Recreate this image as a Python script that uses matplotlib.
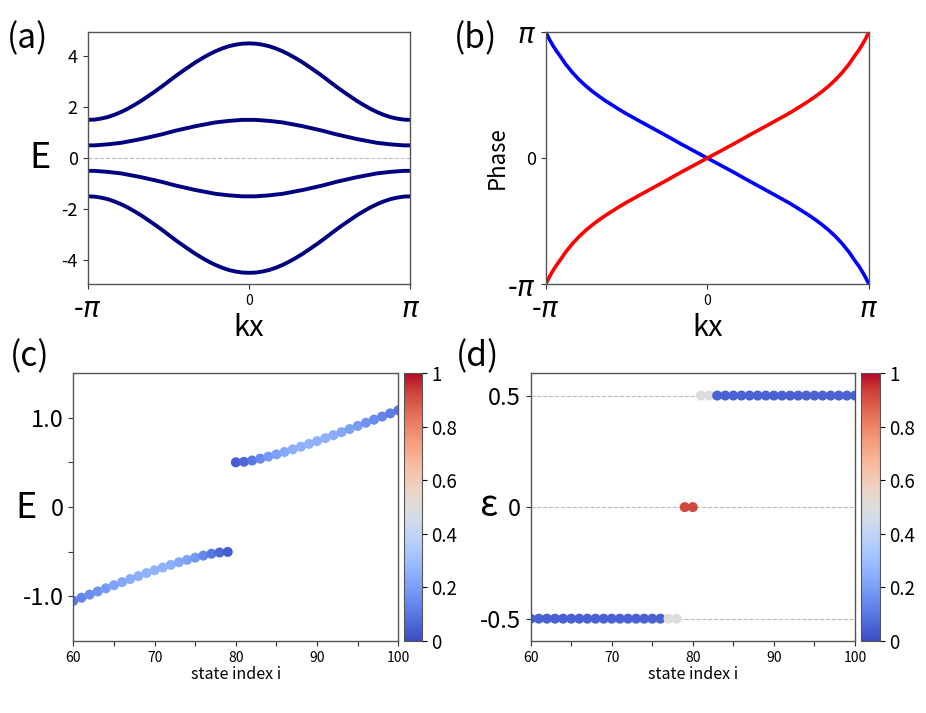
import numpy as np
import matplotlib.pyplot as plt

plt.rcParams['font.family'] = ['Noto Sans CJK JP', 'DejaVu Sans']
plt.rcParams['axes.unicode_minus'] = False
plt.rcParams['mathtext.fontset'] = 'dejavusans'

# --- (a) band structure, read at kx = n*pi/24 ---
kx_a = np.arange(-24, 25) * np.pi / 24
band_1 = [1.50, 1.51, 1.55, 1.61, 1.70, 1.81, 1.94, 2.09, 2.25, 2.43, 2.61, 2.80, 3.00,
          3.20, 3.39, 3.57, 3.75, 3.91, 4.06, 4.19, 4.30, 4.39, 4.45, 4.49, 4.50,
          4.49, 4.45, 4.39, 4.30, 4.19, 4.06, 3.91, 3.75, 3.57, 3.39, 3.20, 3.00,
          2.80, 2.61, 2.43, 2.25, 2.09, 1.94, 1.81, 1.70, 1.61, 1.55, 1.51, 1.50]
band_2 = [0.50, 0.50, 0.52, 0.54, 0.57, 0.60, 0.65, 0.70, 0.75, 0.81, 0.87, 0.93, 1.00,
          1.07, 1.13, 1.19, 1.25, 1.30, 1.35, 1.40, 1.43, 1.46, 1.48, 1.50, 1.50,
          1.50, 1.48, 1.46, 1.43, 1.40, 1.35, 1.30, 1.25, 1.19, 1.13, 1.07, 1.00,
          0.93, 0.87, 0.81, 0.75, 0.70, 0.65, 0.60, 0.57, 0.54, 0.52, 0.50, 0.50]
band_3 = [-0.50, -0.50, -0.52, -0.54, -0.57, -0.60, -0.65, -0.70, -0.75, -0.81, -0.87, -0.93, -1.00,
          -1.07, -1.13, -1.19, -1.25, -1.30, -1.35, -1.40, -1.43, -1.46, -1.48, -1.50, -1.50,
          -1.50, -1.48, -1.46, -1.43, -1.40, -1.35, -1.30, -1.25, -1.19, -1.13, -1.07, -1.00,
          -0.93, -0.87, -0.81, -0.75, -0.70, -0.65, -0.60, -0.57, -0.54, -0.52, -0.50, -0.50]
band_4 = [-1.50, -1.51, -1.55, -1.61, -1.70, -1.81, -1.94, -2.09, -2.25, -2.43, -2.61, -2.80, -3.00,
          -3.20, -3.39, -3.57, -3.75, -3.91, -4.06, -4.19, -4.30, -4.39, -4.45, -4.49, -4.50,
          -4.49, -4.45, -4.39, -4.30, -4.19, -4.06, -3.91, -3.75, -3.57, -3.39, -3.20, -3.00,
          -2.80, -2.61, -2.43, -2.25, -2.09, -1.94, -1.81, -1.70, -1.61, -1.55, -1.51, -1.50]

# --- (b) Wilson-loop phases (units of pi) ---
kx_b = [-1.0, -0.979, -0.958, -0.938, -0.917, -0.875, -0.833, -0.792, -0.75, -0.708, -0.667, -0.625,
        -0.583, -0.542, -0.5, -0.417, -0.333, -0.25, -0.167, -0.083, 0.0,
        0.083, 0.167, 0.25, 0.333, 0.417, 0.5, 0.542, 0.583, 0.625, 0.667, 0.708,
        0.75, 0.792, 0.833, 0.875, 0.917, 0.938, 0.958, 0.979, 1.0]
phase_red = [-1.0, -0.946, -0.898, -0.857, -0.820, -0.742, -0.676, -0.620, -0.570, -0.526, -0.487, -0.450,
             -0.416, -0.383, -0.351, -0.292, -0.233, -0.175, -0.115, -0.057, 0.0,
             0.057, 0.115, 0.175, 0.233, 0.292, 0.351, 0.383, 0.416, 0.450, 0.487, 0.526,
             0.570, 0.620, 0.676, 0.742, 0.820, 0.857, 0.898, 0.946, 1.0]
phase_blue = [1.0, 0.946, 0.898, 0.857, 0.820, 0.742, 0.676, 0.620, 0.570, 0.526, 0.487, 0.450,
              0.416, 0.383, 0.351, 0.292, 0.233, 0.175, 0.115, 0.057, 0.0,
              -0.057, -0.115, -0.175, -0.233, -0.292, -0.351, -0.383, -0.416, -0.450, -0.487, -0.526,
              -0.570, -0.620, -0.676, -0.742, -0.820, -0.857, -0.898, -0.946, -1.0]

# --- (c) open-boundary energies around the gap ---
idx_c = list(range(60, 101))
energy_c = [-1.050, -1.015, -0.980, -0.945, -0.910, -0.875, -0.840, -0.806, -0.773, -0.740,
            -0.708, -0.677, -0.647, -0.618, -0.591, -0.566, -0.543, -0.522, -0.508, -0.502,
            0.502, 0.508, 0.522, 0.543, 0.566, 0.591, 0.618, 0.647, 0.677, 0.708,
            0.740, 0.773, 0.806, 0.840, 0.875, 0.910, 0.945, 0.980, 1.015, 1.050, 1.085]
weight_c = [0.11, 0.13, 0.15, 0.17, 0.19, 0.21, 0.23, 0.24, 0.25, 0.26,
            0.26, 0.26, 0.25, 0.23, 0.21, 0.18, 0.14, 0.10, 0.07, 0.04,
            0.04, 0.07, 0.10, 0.14, 0.18, 0.21, 0.23, 0.25, 0.26, 0.26,
            0.26, 0.25, 0.24, 0.23, 0.21, 0.19, 0.17, 0.15, 0.13, 0.11, 0.10]

# --- (d) Wannier centers ---
idx_d = list(range(60, 101))
eps_d = [-0.5] * 19 + [0.0, 0.0] + [0.5] * 20
weight_d = [0.05] * 17 + [0.5, 0.5] + [0.92, 0.92] + [0.5, 0.5] + [0.05] * 18

fig = plt.figure(figsize=(9.26, 7.13), dpi=100)
spine_col = '#555555'


def style_axes(ax):
    for s in ax.spines.values():
        s.set_color(spine_col)
        s.set_linewidth(1.0)
    ax.tick_params(length=3.5, width=0.8, color='#333333')


pi_labels = ['-$\\pi$', '0', '$\\pi$']

# (a)
ax_a = fig.add_axes([0.0945, 0.6013, 0.3488, 0.3539])
for band in (band_1, band_2, band_3, band_4):
    ax_a.plot(kx_a, band, color='navy', lw=2.8)
ax_a.axhline(0, color='#bbbbbb', lw=0.8, ls='--')
ax_a.set_xlim(-np.pi, np.pi)
ax_a.set_ylim(-4.95, 4.95)
ax_a.set_yticks([-4, -2, 0, 2, 4])
ax_a.set_yticklabels(['-4', '-2', '0', '2', '4'], fontsize=13)
ax_a.set_xticks([-np.pi, 0, np.pi])
ax_a.set_xticklabels(pi_labels)
style_axes(ax_a)

# (b)
ax_b = fig.add_axes([0.5893, 0.6013, 0.3491, 0.3539])
ax_b.plot(np.array(kx_b) * np.pi, np.array(phase_blue) * np.pi, color='blue', lw=2.6)
ax_b.plot(np.array(kx_b) * np.pi, np.array(phase_red) * np.pi, color='red', lw=2.6)
ax_b.set_xlim(-np.pi, np.pi)
ax_b.set_ylim(-np.pi, np.pi)
ax_b.set_xticks([-np.pi, 0, np.pi])
ax_b.set_xticklabels(pi_labels)
ax_b.set_yticks([-np.pi, 0, np.pi])
ax_b.set_yticklabels(pi_labels)
ax_b.set_ylabel('Phase', fontsize=16)
ax_b.yaxis.set_label_coords(-0.115, 0.5)
style_axes(ax_b)

for ax in (ax_a, ax_b):
    ax.set_xlabel('kx', fontsize=21, labelpad=-8)
    for lab in ax.get_xticklabels():
        lab.set_fontsize(10 if lab.get_text() == '0' else 20)
for lab in ax_b.get_yticklabels():
    lab.set_fontsize(13 if lab.get_text() == '0' else 20)

# (c)
ax_c = fig.add_axes([0.0792, 0.1010, 0.351, 0.3755])
sc_c = ax_c.scatter(idx_c, energy_c, c=weight_c, cmap='coolwarm', vmin=0, vmax=1, s=52, linewidths=0)
ax_c.set_xlim(60, 100)
ax_c.set_ylim(-1.5, 1.5)
ax_c.set_yticks([-1.0, -0.5, 0, 0.5, 1.0])
ax_c.set_yticklabels(['-1.0', '', '0', '', '1.0'], fontsize=17)
cax_c = fig.add_axes([0.4363, 0.1010, 0.0191, 0.3755])

# (d)
ax_d = fig.add_axes([0.5731, 0.1010, 0.3502, 0.3755])
for yv in (-0.5, 0, 0.5):
    ax_d.axhline(yv, color='#bbbbbb', lw=0.8, ls='--', zorder=0)
sc_d = ax_d.scatter(idx_d, eps_d, c=weight_d, cmap='coolwarm', vmin=0, vmax=1, s=52, linewidths=0)
ax_d.set_xlim(60, 100)
ax_d.set_ylim(-0.6, 0.6)
ax_d.set_yticks([-0.5, 0, 0.5])
ax_d.set_yticklabels(['-0.5', '0', '0.5'], fontsize=17)
cax_d = fig.add_axes([0.9301, 0.1010, 0.0199, 0.3755])

for ax, sc, cax in ((ax_c, sc_c, cax_c), (ax_d, sc_d, cax_d)):
    ax.set_xticks([60, 65, 70, 75, 80, 85, 90, 95, 100])
    ax.set_xticklabels(['60', '', '70', '', '80', '', '90', '', '100'], fontsize=10)
    ax.set_xlabel('state index i', fontsize=11.5, labelpad=1)
    style_axes(ax)
    cb = fig.colorbar(sc, cax=cax)
    cb.set_ticks([0, 0.2, 0.4, 0.6, 0.8, 1])
    cb.set_ticklabels(['0', '0.2', '0.4', '0.6', '0.8', '1'])
    cb.ax.tick_params(labelsize=13.5, length=3.5, width=0.8)
    cb.outline.set_edgecolor(spine_col)

# big axis symbols and panel labels
fig.text(40 / 926, 1 - 158 / 713, 'E', fontsize=26, ha='center', va='center')
fig.text(26 / 926, 1 - 508 / 713, 'E', fontsize=26, ha='center', va='center')
fig.text(488 / 926, 1 - 506 / 713, 'ε', fontsize=26, ha='center', va='center')
fig.text(28 / 926, 1 - 39 / 713, '(a)', fontsize=24, ha='center', va='center')
fig.text(476 / 926, 1 - 39 / 713, '(b)', fontsize=24, ha='center', va='center')
fig.text(30 / 926, 1 - 357 / 713, '(c)', fontsize=24, ha='center', va='center')
fig.text(478 / 926, 1 - 357 / 713, '(d)', fontsize=24, ha='center', va='center')

fig.savefig('out.png', dpi=100)
